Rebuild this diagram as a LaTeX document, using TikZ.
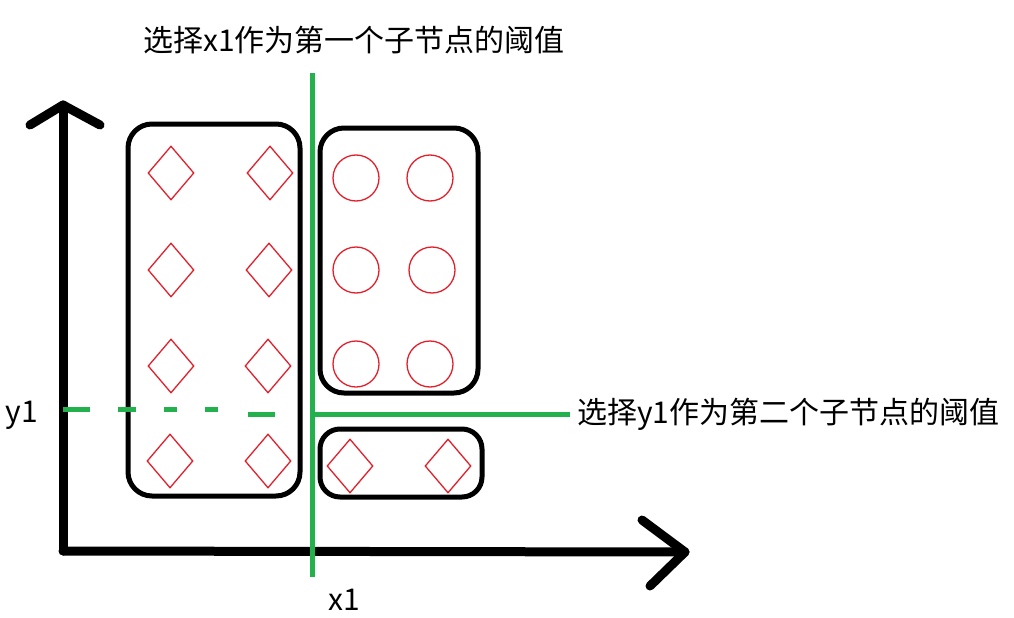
\documentclass[tikz,border=0pt]{standalone}
\usepackage{fontspec}
\newfontfamily\cjk{Noto Sans CJK SC}
\usepackage{tikz}
\usetikzlibrary{shapes.geometric}
\definecolor{splitgreen}{RGB}{34, 177, 76}
\definecolor{ptred}{RGB}{226, 32, 44}
\tikzset{
  groupbox/.style = {
    rectangle,
    rounded corners=24pt,
    draw=black,
    line width=5pt,
    inner sep=0pt
  },
  diamondpt/.style = {
    diamond,
    draw=ptred,
    line width=1.3pt,
    minimum width=46pt,
    minimum height=54pt,
    inner sep=0pt
  },
  circlept/.style = {
    circle,
    draw=ptred,
    line width=1.3pt,
    minimum size=46pt,
    inner sep=0pt
  },
  axisline/.style = {
    line width=9pt,
    line cap=round,
    line join=round,
    draw=black
  },
  splitline/.style = {
    line width=5pt,
    draw=splitgreen
  },
  cntext/.style = {
    font=\cjk\fontsize{30}{33}\selectfont,
    inner sep=0pt
  }
}
\begin{document}
\begin{tikzpicture}[x=1pt, y=-1pt]
  \useasboundingbox (0,0) rectangle (1014,618);

  % Axes
  \coordinate (origin) at (63,551);
  \coordinate (ytop) at (63,105);
  \coordinate (xend) at (685,552);
  \draw[axisline] (origin) -- (ytop);
  \draw[axisline] (origin) -- (xend);
  \draw[axisline] (30,125) -- (ytop) -- (100,125);
  \draw[axisline] (642,520) -- (xend) -- (650,586);

  % Groups
  \node[groupbox, minimum width=172pt, minimum height=372pt] at (214,310) (leftbox) {};
  \node[groupbox, minimum width=158pt, minimum height=265pt] at (399,260.5) (circbox) {};
  \node[groupbox, rounded corners=20pt, minimum width=162pt, minimum height=68pt] at (401,463) (lowbox) {};

  % Points left of x1
  \node[diamondpt] at (171,173) (d11) {};
  \node[diamondpt] at (270,173) (d12) {};
  \node[diamondpt] at (171,270) (d21) {};
  \node[diamondpt] at (269,270) (d22) {};
  \node[diamondpt] at (171,366) (d31) {};
  \node[diamondpt] at (268,366) (d32) {};
  \node[diamondpt] at (170,461) (d41) {};
  \node[diamondpt] at (268,461) (d42) {};

  % Points right of x1, above y1
  \node[circlept] at (356,178) (c11) {};
  \node[circlept] at (430,178) (c12) {};
  \node[circlept] at (356,270) (c21) {};
  \node[circlept] at (432,270) (c22) {};
  \node[circlept] at (356,364) (c31) {};
  \node[circlept] at (430,364) (c32) {};

  % Points right of x1, below y1
  \node[diamondpt] at (350,466) (e1) {};
  \node[diamondpt] at (448,466) (e2) {};

  % Thresholds
  \coordinate (xsplittop) at (312,73);
  \coordinate (xsplitbot) at (312,577);
  \coordinate (ysplit) at (312,414);
  \coordinate (ysplitend) at (570,414);
  \draw[splitline] (xsplittop) -- (xsplitbot);
  \draw[splitline] (ysplit) -- (ysplitend);
  \draw[splitline, dash pattern=on 27pt off 28pt on 18pt off 28pt on 13pt off 28pt on 14pt off 30pt]
    (63,409) -- (218,409);
  \draw[splitline] (248,414) -- (275,414);

  % Texts
  \node[cntext] at (354,40) (xtitle) {选择x1作为第一个子节点的阈值};
  \node[cntext, anchor=west] at (577,414) (ytitle) {选择y1作为第二个子节点的阈值};
  \node[cntext] at (22,415) (ylabel) {y1};
  \node[cntext] at (344,600) (xlabel) {x1};
\end{tikzpicture}
\end{document}
